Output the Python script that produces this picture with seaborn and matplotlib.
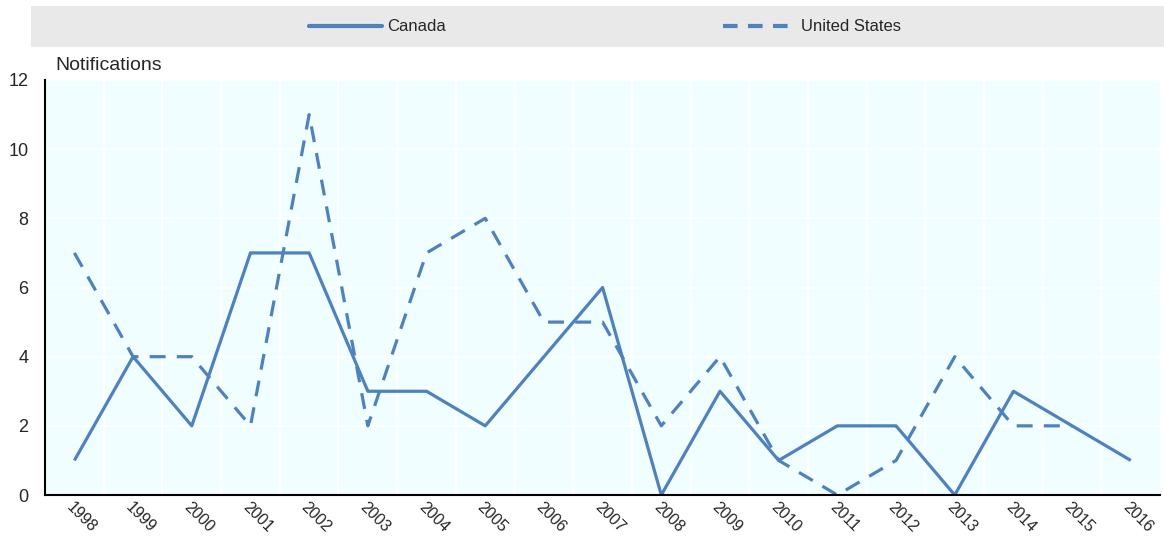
import numpy as np
import pandas as pd
import matplotlib
matplotlib.use("Agg")
import matplotlib.pyplot as plt
import seaborn as sns
from matplotlib.patches import Rectangle
from matplotlib.lines import Line2D

years = [str(y) for y in range(1998, 2017)]
canada = [1, 4, 2, 7, 7, 3, 3, 2, 4, 6, 0, 3, 1, 2, 2, 0, 3, 2, 1]
united_states = [7, 4, 4, 2, 11, 2, 7, 8, 5, 5, 2, 4, 1, 0, 1, 4, 2, 2, np.nan]
y_ticks = [0, 2, 4, 6, 8, 10, 12]

sns.set_theme(style="white")
plt.rcParams['font.family'] = ['Liberation Sans', 'DejaVu Sans']

color = "#4f81bd"
df = pd.DataFrame({
    "pos": list(range(len(years))) * 2,
    "value": canada + united_states,
    "series": ["Canada"] * len(years) + ["United States"] * len(years),
})

fig = plt.figure(figsize=(11.64, 5.39), dpi=100)
ax = fig.add_axes([0.0387, 0.0816, 0.958, 0.770])
ax.set_facecolor("#f0feff")

sns.lineplot(data=df, x="pos", y="value", hue="series", style="series",
             palette=[color, color], dashes=[(1, 0), (5, 3.5)],
             linewidth=2.3, ax=ax, legend=False)

ax.set_xlim(-0.5, len(years) - 0.5)
ax.set_ylim(0, 12)
ax.set_yticks(y_ticks)
ax.set_yticklabels([str(v) for v in y_ticks], fontsize=13)
ax.set_xticks(range(len(years)))
ax.set_xticklabels(years, rotation=-45, ha="left", va="top",
                   rotation_mode="anchor", fontsize=11.5)
ax.set_xticks(np.arange(0.5, len(years) - 1, 1.0), minor=True)
ax.tick_params(axis="x", which="major", length=0, pad=3)
ax.tick_params(axis="x", which="minor", direction="in", length=7, width=1.2, color="black")
ax.tick_params(axis="y", which="major", direction="in", length=5, width=1.2, color="black", pad=12)
ax.grid(False)
ax.yaxis.grid(True, color="white", linewidth=1.2)
ax.xaxis.grid(True, which="minor", color="white", linewidth=1.2)
ax.set_axisbelow(True)
ax.set_xlabel("")
ax.set_ylabel("")
for s in ["top", "right"]:
    ax.spines[s].set_visible(False)
for s in ["left", "bottom"]:
    ax.spines[s].set_color("black")
    ax.spines[s].set_linewidth(1.5)

fig.text(55 / 1164, 1 - 66 / 539, "Notifications", fontsize=14, ha="left", va="center")

fig.patches.append(Rectangle((31 / 1164, 1 - 47 / 539), 1 - 31 / 1164, 41 / 539,
                             transform=fig.transFigure, facecolor="#e9e9e9",
                             edgecolor="none", zorder=0))
handles = [Line2D([], [], color=color, lw=3),
           Line2D([], [], color=color, lw=3, dashes=(3.5, 2.5))]
fig.legend(handles, ["Canada", "United States"], loc="center",
           bbox_to_anchor=(605 / 1164, 1 - 27 / 539), ncol=2, frameon=False,
           fontsize=12, handlelength=4.4, handletextpad=0.3, columnspacing=16.6)

fig.savefig("out.png", dpi=100)
